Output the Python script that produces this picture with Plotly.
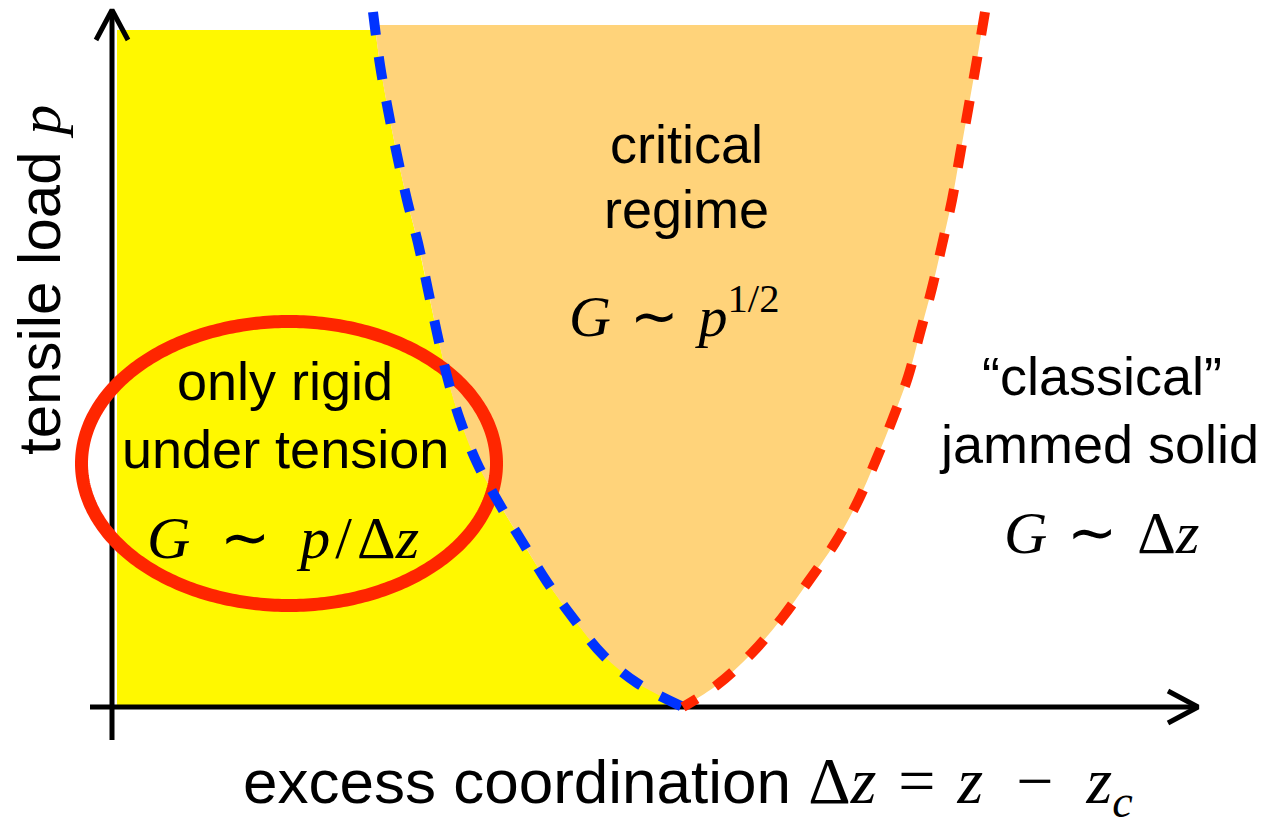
import numpy as np
import plotly.graph_objects as go

# Phase boundaries (Δz, p) in arbitrary units, origin at the axes crossing
blue_dz = [2.61, 2.68, 2.76, 2.85, 2.95, 3.06, 3.16, 3.25, 3.36, 3.48, 3.65, 3.88,
           4.11, 4.35, 4.61, 4.91, 5.25, 5.71]
blue_p = [6.95, 6.42, 5.97, 5.52, 5.07, 4.64, 4.17, 3.74, 3.27, 2.87, 2.44, 2.02,
          1.64, 1.25, 0.89, 0.52, 0.24, 0.00]
red_dz = [8.73, 8.64, 8.56, 8.48, 8.40, 8.30, 8.20, 8.08, 7.96, 7.81, 7.64, 7.45,
          7.23, 6.96, 6.70, 6.40, 6.05, 5.71]
red_p = [6.95, 6.42, 5.97, 5.52, 5.07, 4.62, 4.19, 3.74, 3.30, 2.89, 2.47, 2.04,
         1.64, 1.25, 0.89, 0.54, 0.22, 0.00]

# Region extents
yellow_left = 0.05
yellow_top = 6.77
orange_top = 6.82

# Axis geometry
x_axis_start, x_axis_end = -0.22, 10.86
y_axis_start, y_axis_end = -0.33, 6.97
arrow_len, arrow_half = 0.30, 0.16

# Highlight ellipse: centre and semi-axes
ell_cx, ell_cy = 1.77, 2.435
ell_rx, ell_ry = 2.075, 1.42

YELLOW = "#FFF800"
ORANGE = "#FFD37A"
BLUE = "#0033FF"
RED = "#FF2600"

SANS = "Liberation Sans"
SERIF = "Liberation Serif"
EN = "\u2002"    # en space
MID = "\u2004"   # three-per-em space
HAIR = "\u200A"  # hair space


def branch_x(xs, ys, level):
    # x on a boundary branch at height `level` (ys decreasing)
    return float(np.interp(level, ys[::-1], xs[::-1]))


fig = go.Figure()

# yellow region: left of the blue boundary
b_dz = np.array(blue_dz)
b_p = np.array(blue_p)
mask = b_p < yellow_top
yx = [yellow_left, branch_x(b_dz, b_p, yellow_top)] + list(b_dz[mask]) + [yellow_left]
yy = [yellow_top, yellow_top] + list(b_p[mask]) + [0.0]
fig.add_trace(go.Scatter(x=yx, y=yy, fill="toself", fillcolor=YELLOW, mode="lines",
                         line=dict(width=0), hoverinfo="skip"))

# orange region: between the two boundaries
r_dz = np.array(red_dz)
r_p = np.array(red_p)
mb = b_p < orange_top
mr = r_p < orange_top
ox = [branch_x(b_dz, b_p, orange_top)] + list(b_dz[mb]) + list(r_dz[mr][::-1]) + [branch_x(r_dz, r_p, orange_top)]
oy = [orange_top] + list(b_p[mb]) + list(r_p[mr][::-1]) + [orange_top]
fig.add_trace(go.Scatter(x=ox, y=oy, fill="toself", fillcolor=ORANGE, mode="lines",
                         line=dict(width=0, shape="spline"), hoverinfo="skip"))

# axes with open arrowheads
ax_line = dict(color="black", width=5)
fig.add_trace(go.Scatter(x=[x_axis_start, x_axis_end], y=[0, 0], mode="lines", line=ax_line))
fig.add_trace(go.Scatter(x=[0, 0], y=[y_axis_start, y_axis_end], mode="lines", line=ax_line))
fig.add_trace(go.Scatter(x=[x_axis_end - arrow_len, x_axis_end, x_axis_end - arrow_len],
                         y=[arrow_half, 0, -arrow_half], mode="lines", line=ax_line))
fig.add_trace(go.Scatter(x=[-arrow_half, 0, arrow_half],
                         y=[y_axis_end - arrow_len, y_axis_end, y_axis_end - arrow_len],
                         mode="lines", line=ax_line))

# highlight ellipse around the tension-only regime
t = np.linspace(0, 2 * np.pi, 361)
fig.add_trace(go.Scatter(x=ell_cx + ell_rx * np.cos(t), y=ell_cy + ell_ry * np.sin(t),
                         mode="lines", hoverinfo="skip",
                         line=dict(color=RED, width=13, simplify=False)))

# dashed phase boundaries
fig.add_trace(go.Scatter(x=blue_dz, y=blue_p, mode="lines",
                         line=dict(color=BLUE, width=10, dash="23px,22px", shape="spline")))
fig.add_trace(go.Scatter(x=red_dz, y=red_p, mode="lines",
                         line=dict(color=RED, width=10, dash="23px,22px", shape="spline")))


def label(text, x, y, size, family=SANS, angle=0):
    fig.add_annotation(x=x, y=y, xref="x", yref="y", text=text, showarrow=False,
                       font=dict(family=family, size=size, color="black"),
                       xanchor="center", yanchor="middle", textangle=angle)


def math(s, size=None):
    style = f"font-family:{SERIF}"
    if size:
        style += f";font-size:{size}px"
    return f'<span style="{style}">{s}</span>'


label("critical", 5.74, 5.63, 54)
label("regime", 5.74, 4.98, 54)
label(math(f"<i>G</i>{MID}∼{MID}<i>p</i><sup>1/2</sup>"), 5.62, 3.95, 58, SERIF)

label("only rigid", 1.73, 3.26, 54)
label("under tension", 1.73, 2.58, 54)
label(math(f"<i>G</i>{EN}∼{EN}<i>p</i>{HAIR}/{HAIR}Δ<i>z</i>"), 1.71, 1.69, 60, SERIF)

label("“classical”", 9.90, 3.31, 54)
label("jammed solid", 9.87, 2.63, 54)
label(math(f"<i>G</i>{MID}∼{MID}Δ<i>z</i>"), 9.89, 1.74, 60, SERIF)

label("excess coordination "
      + math(f"Δ<i>z</i>{MID}={MID}<i>z</i>{EN}−{EN}<i>z<sub>c</sub></i>", 66),
      5.76, -0.78, 62)
label("tensile load " + math("<i>p</i>"), -0.73, 4.27, 60, angle=-90)

fig.update_layout(
    width=1271, height=827,
    margin=dict(l=0, r=0, t=0, b=0),
    paper_bgcolor="white", plot_bgcolor="white",
    showlegend=False,
    xaxis=dict(range=[-1.12, 11.59], visible=False, fixedrange=True),
    yaxis=dict(range=[-1.20, 7.07], visible=False, fixedrange=True),
)

fig.write_html("out.html")
